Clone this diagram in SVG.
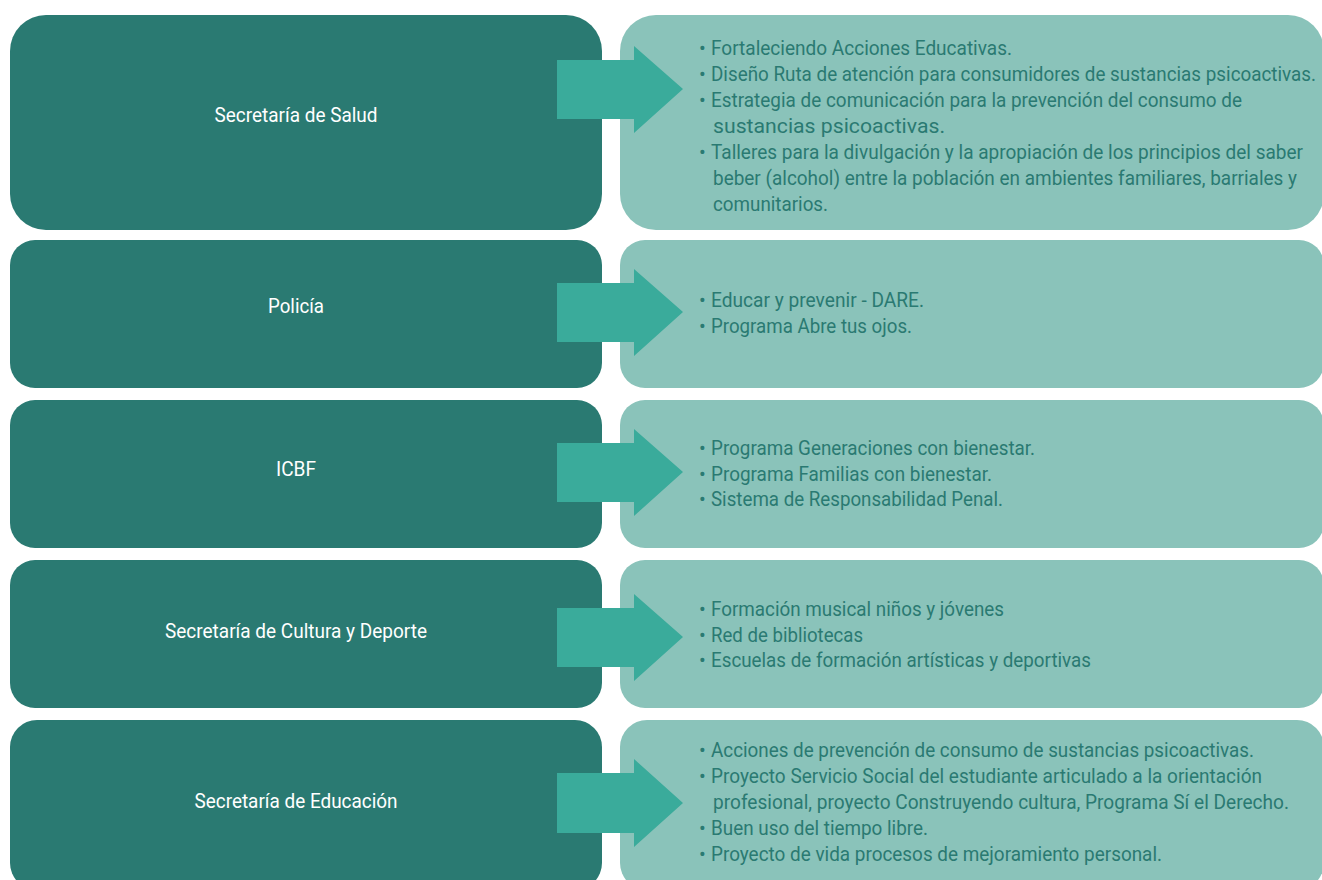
<svg xmlns="http://www.w3.org/2000/svg" width="1322" height="880" viewBox="0 0 1322 880">
<style>
.lb{fill:#2A7A72;}
.rb{fill:#8AC3BA;}
.ar{fill:#3AAB9B;}
.lt{font-family:Roboto,"Liberation Sans",sans-serif;font-size:20px;fill:#FFFFFF;text-anchor:middle;}
.rt{font-family:Roboto,"Liberation Sans",sans-serif;font-size:20px;fill:#2A7A72;}
</style>
<rect width="1322" height="880" fill="#FFFFFF"/>
<g id="row1-left"><rect class="lb" x="10" y="15" width="592" height="215" rx="36" ry="36"/><text class="lt" x="296" y="122" textLength="163" lengthAdjust="spacingAndGlyphs">Secretaría de Salud</text></g>
<g id="row2-left"><rect class="lb" x="10" y="240" width="592" height="148" rx="25" ry="25"/><text class="lt" x="296" y="313" textLength="56" lengthAdjust="spacingAndGlyphs">Policía</text></g>
<g id="row3-left"><rect class="lb" x="10" y="400" width="592" height="148" rx="25" ry="25"/><text class="lt" x="296" y="476" textLength="40" lengthAdjust="spacingAndGlyphs">ICBF</text></g>
<g id="row4-left"><rect class="lb" x="10" y="560" width="592" height="148" rx="25" ry="25"/><text class="lt" x="296" y="638" textLength="262" lengthAdjust="spacingAndGlyphs">Secretaría de Cultura y Deporte</text></g>
<g id="row5-left"><rect class="lb" x="10" y="720" width="592" height="170" rx="27" ry="27"/><text class="lt" x="296" y="808" textLength="203" lengthAdjust="spacingAndGlyphs">Secretaría de Educación</text></g>

<g id="row1-right"><rect class="rb" x="620" y="15" width="704" height="215" rx="36" ry="36"/>
<text class="rt" x="699" y="55">•</text><text class="rt" x="711" y="55" textLength="301" lengthAdjust="spacingAndGlyphs">Fortaleciendo Acciones Educativas.</text>
<text class="rt" x="699" y="81">•</text><text class="rt" x="711" y="81" textLength="605" lengthAdjust="spacingAndGlyphs">Diseño Ruta de atención para consumidores de sustancias psicoactivas.</text>
<text class="rt" x="699" y="107">•</text><text class="rt" x="711" y="107" textLength="531" lengthAdjust="spacingAndGlyphs">Estrategia de comunicación para la prevención del consumo de</text>
<text class="rt" x="713" y="133" textLength="232" lengthAdjust="spacingAndGlyphs">sustancias psicoactivas.</text>
<text class="rt" x="699" y="159">•</text><text class="rt" x="711" y="159" textLength="592" lengthAdjust="spacingAndGlyphs">Talleres para la divulgación y la apropiación de los principios del saber</text>
<text class="rt" x="713" y="185" textLength="584" lengthAdjust="spacingAndGlyphs">beber (alcohol) entre la población en ambientes familiares, barriales y</text>
<text class="rt" x="713" y="211" textLength="115" lengthAdjust="spacingAndGlyphs">comunitarios.</text>
</g>
<g id="row2-right"><rect class="rb" x="620" y="240" width="704" height="148" rx="25" ry="25"/>
<text class="rt" x="699" y="307">•</text><text class="rt" x="711" y="307" textLength="213" lengthAdjust="spacingAndGlyphs">Educar y prevenir - DARE.</text>
<text class="rt" x="699" y="333">•</text><text class="rt" x="711" y="333" textLength="201" lengthAdjust="spacingAndGlyphs">Programa Abre tus ojos.</text>
</g>
<g id="row3-right"><rect class="rb" x="620" y="400" width="704" height="148" rx="25" ry="25"/>
<text class="rt" x="699" y="455">•</text><text class="rt" x="711" y="455" textLength="324" lengthAdjust="spacingAndGlyphs">Programa Generaciones con bienestar.</text>
<text class="rt" x="699" y="481">•</text><text class="rt" x="711" y="481" textLength="281" lengthAdjust="spacingAndGlyphs">Programa Familias con bienestar.</text>
<text class="rt" x="699" y="506">•</text><text class="rt" x="711" y="506" textLength="292" lengthAdjust="spacingAndGlyphs">Sistema de Responsabilidad Penal.</text>
</g>
<g id="row4-right"><rect class="rb" x="620" y="560" width="704" height="148" rx="25" ry="25"/>
<text class="rt" x="699" y="616">•</text><text class="rt" x="711" y="616" textLength="293" lengthAdjust="spacingAndGlyphs">Formación musical niños y jóvenes</text>
<text class="rt" x="699" y="642">•</text><text class="rt" x="711" y="642" textLength="152" lengthAdjust="spacingAndGlyphs">Red de bibliotecas</text>
<text class="rt" x="699" y="667">•</text><text class="rt" x="711" y="667" textLength="380" lengthAdjust="spacingAndGlyphs">Escuelas de formación artísticas y deportivas</text>
</g>
<g id="row5-right"><rect class="rb" x="620" y="720" width="704" height="170" rx="27" ry="27"/>
<text class="rt" x="699" y="757">•</text><text class="rt" x="711" y="757" textLength="543" lengthAdjust="spacingAndGlyphs">Acciones de prevención de consumo de sustancias psicoactivas.</text>
<text class="rt" x="699" y="783">•</text><text class="rt" x="711" y="783" textLength="551" lengthAdjust="spacingAndGlyphs">Proyecto Servicio Social del estudiante articulado a la orientación</text>
<text class="rt" x="713" y="809" textLength="576" lengthAdjust="spacingAndGlyphs">profesional, proyecto Construyendo cultura, Programa Sí el Derecho.</text>
<text class="rt" x="699" y="835">•</text><text class="rt" x="711" y="835" textLength="217" lengthAdjust="spacingAndGlyphs">Buen uso del tiempo libre.</text>
<text class="rt" x="699" y="861">•</text><text class="rt" x="711" y="861" textLength="451" lengthAdjust="spacingAndGlyphs">Proyecto de vida procesos de mejoramiento personal.</text>
</g>

<g id="connectors">
<polygon class="ar" points="557,60 634,60 634,46 683,89 634,133 634,119 557,119"/>
<polygon class="ar" points="557,283 634,283 634,269 683,312 634,356 634,342 557,342"/>
<polygon class="ar" points="557,443 634,443 634,429 683,472 634,516 634,502 557,502"/>
<polygon class="ar" points="557,608 634,608 634,594 683,637 634,681 634,667 557,667"/>
<polygon class="ar" points="557,773 634,773 634,759 683,803 634,847 634,833 557,833"/>
</g>
</svg>
